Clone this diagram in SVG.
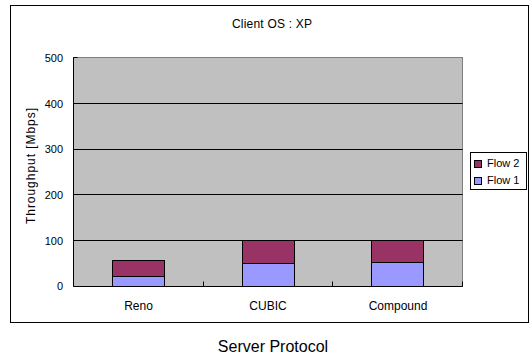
<svg xmlns="http://www.w3.org/2000/svg" width="530" height="356" viewBox="0 0 530 356">
  <style>
    text { font-family: "Liberation Sans", Arial, sans-serif; fill: #000; }
    .lbl { font-size: 11px; }
    .big { font-size: 12px; }
    .tick { font-size: 11px; text-anchor: end; }
    .cat { font-size: 12px; text-anchor: middle; }
    .grid { stroke: #000; stroke-width: 1; }
    .axis { stroke: #000; stroke-width: 1; fill: none; }
    .f1 { fill: #9999FF; stroke: #000; stroke-width: 1; }
    .f2 { fill: #993366; stroke: #000; stroke-width: 1; }
  </style>
  <rect x="0" y="0" width="530" height="356" fill="#fff"/>

  <!-- chart frame -->
  <rect id="chart-frame" x="10.5" y="5.5" width="518" height="317" fill="#fff" stroke="#000"/>

  <text id="title" class="big" x="272" y="28" text-anchor="middle" textLength="80" lengthAdjust="spacing">Client OS : XP</text>

  <!-- plot area -->
  <g id="plot">
    <rect x="73.5" y="57.5" width="389" height="229" fill="#C0C0C0" stroke="#808080"/>
    <line class="grid" x1="73.5" y1="103.5" x2="462.5" y2="103.5"/>
    <line class="grid" x1="73.5" y1="149.5" x2="462.5" y2="149.5"/>
    <line class="grid" x1="73.5" y1="194.5" x2="462.5" y2="194.5"/>
    <line class="grid" x1="73.5" y1="240.5" x2="462.5" y2="240.5"/>
    <!-- axes -->
    <path class="axis" d="M73.5 57.5 V286.5 H462.5"/>
    <path class="axis" d="M73.5 57.5 h4 M73.5 103.5 h4 M73.5 149.5 h4 M73.5 194.5 h4 M73.5 240.5 h4 M203.5 286.5 v-5 M332.5 286.5 v-5 M462.5 286.5 v-5"/>
  </g>

  <!-- y tick labels -->
  <g id="y-ticks">
    <text class="tick" x="63" y="62">500</text>
    <text class="tick" x="63" y="108">400</text>
    <text class="tick" x="63" y="153">300</text>
    <text class="tick" x="63" y="199">200</text>
    <text class="tick" x="63" y="245">100</text>
    <text class="tick" x="63" y="290">0</text>
  </g>

  <text id="y-title" class="big" transform="translate(35 166) rotate(-90)" text-anchor="middle" textLength="116" lengthAdjust="spacing">Throughput [Mbps]</text>

  <!-- stacked bars -->
  <g id="bar-reno">
    <rect class="f1" x="112.5" y="276.5" width="52" height="10"/>
    <rect class="f2" x="112.5" y="260.5" width="52" height="16"/>
  </g>
  <g id="bar-cubic">
    <rect class="f1" x="242.5" y="263.5" width="52" height="23"/>
    <rect class="f2" x="242.5" y="240.5" width="52" height="23"/>
  </g>
  <g id="bar-compound">
    <rect class="f1" x="371.5" y="262.5" width="52" height="24"/>
    <rect class="f2" x="371.5" y="240.5" width="52" height="22"/>
  </g>

  <!-- category labels -->
  <g id="x-labels">
    <text class="cat" x="138.5" y="310">Reno</text>
    <text class="cat" x="268" y="310">CUBIC</text>
    <text class="cat" x="398" y="310">Compound</text>
  </g>

  <text id="x-title" x="273" y="352" font-size="16" text-anchor="middle">Server Protocol</text>

  <!-- legend -->
  <g id="legend">
    <rect x="470.5" y="152.5" width="56" height="37" fill="#fff" stroke="#000"/>
    <rect class="f2" x="474.5" y="160.5" width="7" height="7"/>
    <text class="lbl" x="487" y="167">Flow 2</text>
    <rect class="f1" x="474.5" y="177.5" width="7" height="7"/>
    <text class="lbl" x="487" y="184">Flow 1</text>
  </g>
</svg>
